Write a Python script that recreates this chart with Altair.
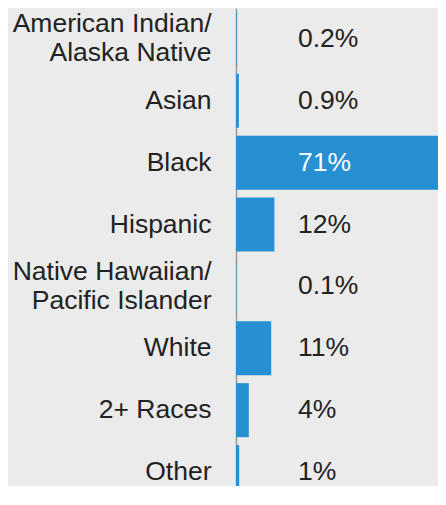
import altair as alt
import pandas as pd

categories = ["American Indian/\nAlaska Native", "Asian", "Black", "Hispanic",
              "Native Hawaiian/\nPacific Islander", "White", "2+ Races", "Other"]
values = [0.2, 0.9, 71, 12, 0.1, 11, 4, 1]
labels = ["0.2%", "0.9%", "71%", "12%", "0.1%", "11%", "4%", "1%"]

df = pd.DataFrame({"cat": categories, "value": values, "label": labels})

FONT = "Liberation Sans"
FS = 26.5

y = alt.Y("cat:N", sort=categories, title=None,
          scale=alt.Scale(paddingInner=0, paddingOuter=0, range=[0, 495]),
          axis=alt.Axis(labelExpr="split(datum.label, '\\n')", labelFontSize=FS,
                        labelLineHeight=29, labelFont=FONT, labelColor="#222222",
                        labelPadding=25, ticks=False, domainColor="#9a9a9a",
                        domainWidth=1.5, labelLimit=400, labelAlign="right",
                        labelBaseline="middle",
                        labelOffset={"condition": {"test": "indexof(datum.value, '\\n') >= 0", "value": -14.5},
                                     "value": 0}))

bars = alt.Chart(df).mark_bar(size=54, color="#2690d2", clip=True).encode(
    x=alt.X("value:Q", scale=alt.Scale(domain=[0, 65.6], range=[0, 210], nice=False), axis=None, title=None),
    y=y,
)

text = alt.Chart(df).mark_text(align="left", baseline="middle", font=FONT, fontSize=FS).encode(
    x=alt.value(62),
    y=alt.Y("cat:N", sort=categories),
    text="label:N",
    color=alt.condition("datum.value > 50", alt.value("white"), alt.value("#222222")),
)

chart = (bars + text).properties(
    width=202, height=478,
    autosize=alt.AutoSizeParams(type="none"),
    padding={"left": 228, "top": 0, "right": 0, "bottom": 0},
    background="#ebebeb",
).configure_view(stroke=None)

chart.save("out.html", embed_options={"renderer": "svg", "actions": False})
